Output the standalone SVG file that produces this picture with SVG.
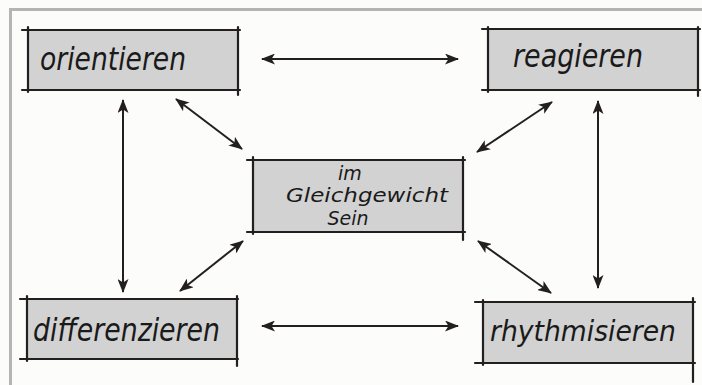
<svg xmlns="http://www.w3.org/2000/svg" width="702" height="385" viewBox="0 0 702 385">
<style>
.bg{fill:#fcfcfa}
.frame{fill:none;stroke:#b4b4b4;stroke-width:3}
.box{fill:#d2d2d2}
.edge{stroke:#231f20;stroke-width:2.2;stroke-linecap:round}
.lbl{font-family:"DejaVu Sans","Liberation Sans",sans-serif;font-style:italic;fill:#1a1a1a}
.big{font-size:32px}
.small{font-size:19px}
.conn{stroke:#231f20;stroke-width:2;fill:none;marker-start:url(#ah);marker-end:url(#ah)}
</style>
<defs>
<marker id="ah" viewBox="0 0 14 11" refX="13" refY="5.5" markerWidth="14" markerHeight="11" markerUnits="userSpaceOnUse" orient="auto-start-reverse">
<path d="M0,0 L14,5.5 L0,11 L3.5,5.5 Z" fill="#231f20"/>
</marker>
</defs>
<rect class="bg" x="0" y="0" width="702" height="385"/>
<path class="frame" d="M10.5,385 L10.5,9.5 L702,9.5"/>

<g id="orientieren">
<rect class="box" x="28" y="30" width="210" height="60"/>
<line class="edge" x1="22" y1="30" x2="240" y2="30"/>
<line class="edge" x1="22" y1="90" x2="240" y2="90"/>
<line class="edge" x1="28" y1="27" x2="28" y2="92"/>
<line class="edge" x1="238" y1="27" x2="238" y2="95"/>
<text class="lbl big" x="40" y="70" textLength="146" lengthAdjust="spacingAndGlyphs">orientieren</text>
</g>

<g id="reagieren">
<rect class="box" x="488" y="29" width="210" height="61"/>
<line class="edge" x1="482" y1="29" x2="700" y2="29"/>
<line class="edge" x1="482" y1="90" x2="700" y2="90"/>
<line class="edge" x1="488" y1="27" x2="488" y2="92"/>
<line class="edge" x1="698" y1="27" x2="698" y2="96"/>
<text class="lbl big" x="513" y="67" textLength="130" lengthAdjust="spacingAndGlyphs">reagieren</text>
</g>

<g id="gleichgewicht">
<rect class="box" x="253" y="160" width="210" height="72"/>
<line class="edge" x1="247" y1="160" x2="465" y2="160"/>
<line class="edge" x1="247" y1="232" x2="465" y2="232"/>
<line class="edge" x1="253" y1="157" x2="253" y2="234"/>
<line class="edge" x1="463" y1="157" x2="463" y2="240"/>
<text class="lbl small" x="350" y="180" text-anchor="middle">im</text>
<text class="lbl small" x="286" y="202" textLength="162" lengthAdjust="spacingAndGlyphs">Gleichgewicht</text>
<text class="lbl small" x="348" y="225" text-anchor="middle">Sein</text>
</g>

<g id="differenzieren">
<rect class="box" x="27" y="299" width="210" height="60"/>
<line class="edge" x1="20" y1="299" x2="238" y2="299"/>
<line class="edge" x1="20" y1="359" x2="238" y2="359"/>
<line class="edge" x1="27" y1="296" x2="27" y2="361"/>
<line class="edge" x1="237" y1="296" x2="237" y2="366"/>
<text class="lbl big" x="33" y="341" textLength="187" lengthAdjust="spacingAndGlyphs">differenzieren</text>
</g>

<g id="rhythmisieren">
<rect class="box" x="483" y="302" width="210" height="61"/>
<line class="edge" x1="475" y1="302" x2="695" y2="302"/>
<line class="edge" x1="475" y1="363" x2="695" y2="363"/>
<line class="edge" x1="483" y1="300" x2="483" y2="365"/>
<line class="edge" x1="693" y1="298" x2="693" y2="382"/>
<text class="lbl" style="font-size:29px" x="490" y="341" textLength="186" lengthAdjust="spacingAndGlyphs">rhythmisieren</text>
</g>

<g id="connectors">
<line class="conn" x1="262" y1="59" x2="458" y2="59"/>
<line class="conn" x1="262" y1="326" x2="458" y2="326"/>
<line class="conn" x1="123" y1="100" x2="123" y2="292"/>
<line class="conn" x1="598" y1="101" x2="598" y2="288"/>
<line class="conn" x1="176" y1="99" x2="242" y2="149"/>
<line class="conn" x1="552" y1="102" x2="477" y2="152"/>
<line class="conn" x1="243" y1="241" x2="180" y2="291"/>
<line class="conn" x1="478" y1="241" x2="551" y2="293"/>
</g>
</svg>
